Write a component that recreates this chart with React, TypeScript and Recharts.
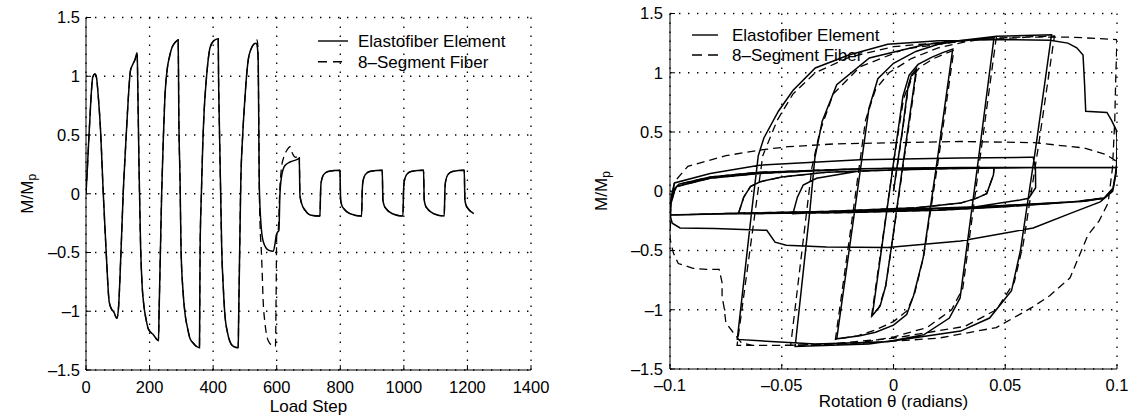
import React from 'react';
import { LineChart, Line, XAxis, YAxis, CartesianGrid } from 'recharts';

const FONT = '"Liberation Sans", Arial, Helvetica, sans-serif';

// ---------- tick values ----------
const leftXTicks = [0, 200, 400, 600, 800, 1000, 1200, 1400];
const yTicks = [-1.5, -1, -0.5, 0, 0.5, 1, 1.5];
const rightXTicks = [-0.1, -0.05, 0, 0.05, 0.1];

const legendLabels = ['Elastofiber Element', '8\u2013Segment Fiber'];
const leftXTitle = 'Load Step';
const rightXTitle = 'Rotation \u03B8 (radians)';

// ---------- left panel: [load step, M/Mp] ----------
const leftSharedCycles: [number, number][] = [
  [0, 0], [4, 0.2], [8, 0.42], [13, 0.68], [17, 0.87], [21, 0.99], [28, 1.02], [33, 0.99], [38, 0.85], [46, 0.53],
  [54, 0.02], [63, -0.47], [73, -0.92], [80, -0.98], [88, -1.01], [97, -1.06], [102, -0.98], [110, -0.5], [117, 0.0], [125, 0.42],
  [133, 0.81], [140, 1.05], [147, 1.1], [154, 1.14], [161, 1.2], [163, 0.9], [167, 0.2], [172, -0.47], [177, -0.8], [182, -0.95],
  [189, -1.07], [196, -1.15], [212, -1.2], [228, -1.25], [230, -1.0], [234, -0.5], [238, 0.0], [243, 0.45], [248, 0.81], [256, 1.07],
  [263, 1.17], [270, 1.24], [278, 1.28], [285, 1.3], [290, 1.31], [292, 0.67], [296, 0.1], [299, -0.47], [305, -0.82], [312, -1.03],
  [320, -1.15], [327, -1.23], [337, -1.27], [348, -1.3], [357, -1.31], [358, -0.9], [359, -0.47], [363, 0.0], [367, 0.39], [372, 0.72],
  [378, 0.955], [384, 1.13], [390, 1.24], [401, 1.3], [416, 1.32], [417, 1.0], [419, 0.67], [423, 0.1], [427, -0.47], [432, -0.8],
  [437, -1.03], [445, -1.18], [453, -1.26], [464, -1.3], [479, -1.31], [480, -1.1], [482, -0.75], [487, 0.1], [493, 0.5], [500, 0.81],
  [505, 1.0], [511, 1.15], [519, 1.23], [527, 1.27], [535, 1.28],
];

const leftSolidMid: [number, number][] = [
  [539, 1.25], [542, 1.1], [545, 0.1], [550, -0.24], [558, -0.41], [574, -0.48], [589, -0.49], [595, -0.42], [598, -0.36], [602, -0.33],
  [607, -0.31], [610, -0.01], [616, 0.16], [626, 0.24], [642, 0.27], [663, 0.29], [671, 0.3], [673, -0.01], [678, -0.08], [689, -0.14],
  [705, -0.18], [736, -0.19],
];

const leftDashedMid: [number, number][] = [
  [538, 1.31], [541, 1.25], [543, 0.8], [545, 0.1], [548, -0.3], [551, -0.45], [554, -0.65], [557, -0.89], [563, -1.1], [568, -1.2],
  [575, -1.26], [585, -1.29], [596, -1.3], [598, -0.9], [600, -0.36], [605, -0.3], [610, 0.05], [615, 0.22], [622, 0.31], [632, 0.37],
  [642, 0.4], [650, 0.34], [660, 0.31], [671, 0.33], [673, -0.01], [678, -0.08], [689, -0.14], [705, -0.18], [736, -0.19],
];

const leftSmallCycles: [number, number][] = [
  [738, 0.02], [740, 0.1], [747, 0.16], [762, 0.19], [799, 0.2],
  [801, -0.05], [805, -0.1], [812, -0.13], [831, -0.17], [867, -0.19],
  [869, 0.02], [871, 0.1], [878, 0.16], [893, 0.19], [932, 0.2],
  [934, -0.05], [938, -0.1], [945, -0.13], [964, -0.17], [997, -0.19],
  [999, 0.02], [1001, 0.1], [1008, 0.16], [1023, 0.19], [1062, 0.2],
  [1064, -0.05], [1068, -0.1], [1075, -0.13], [1094, -0.17], [1127, -0.19],
  [1129, 0.02], [1131, 0.1], [1138, 0.16], [1153, 0.19], [1190, 0.2],
  [1192, -0.05], [1196, -0.1], [1203, -0.13], [1220, -0.17],
];

// ---------- right panel: [rotation, M/Mp] in loading order ----------
const rightSolidBigLoops: [number, number][] = [
  [0, 0], [0.004, 0.52], [0.0065, 0.88], [0.008, 0.98], [0.0102, 1.03],
  [0.0085, 0.8], [0.004, 0.2], [0.0, -0.35], [-0.0035, -0.8], [-0.006, -0.97], [-0.0095, -1.05],
  [-0.005, -0.44], [0.0, 0.24], [0.0042, 0.8], [0.007, 0.98], [0.011, 1.07], [0.017, 1.13], [0.022, 1.17], [0.0265, 1.2],
  [0.02, 0.32], [0.0133, -0.56], [0.009, -0.88], [0.0059, -1.04], [0.0, -1.13], [-0.008, -1.19], [-0.015, -1.22], [-0.0254, -1.245],
  [-0.018, -0.25], [-0.011, 0.7], [-0.007, 0.95], [0.0, 1.08], [0.01, 1.18], [0.02, 1.24], [0.03, 1.27], [0.045, 1.3],
  [0.0375, 0.2], [0.0298, -0.9], [0.025, -1.07], [0.0137, -1.21], [0.0, -1.26], [-0.011, -1.29], [-0.044, -1.31],
  [-0.0374, -0.16], [-0.0352, 0.28], [-0.0319, 0.59], [-0.0254, 0.9], [-0.0108, 1.125], [0.0137, 1.237], [0.0462, 1.307], [0.0707, 1.32],
  [0.0635, 0.35], [0.0568, -0.5], [0.0528, -0.84], [0.043, -1.07], [0.03, -1.18], [-0.0026, -1.27], [-0.035, -1.29], [-0.0699, -1.25],
  [-0.0634, -0.16], [-0.0605, 0.3], [-0.058, 0.45], [-0.0515, 0.675], [-0.045, 0.85], [-0.035, 1.04], [-0.02, 1.15], [-0.0026, 1.24],
  [0.02, 1.27], [0.05, 1.28], [0.07, 1.275], [0.078, 1.25], [0.082, 1.21], [0.0848, 1.15], [0.0855, 0.9], [0.086, 0.675],
  [0.0955, 0.665], [0.0975, 0.6], [0.0996, 0.52],
];

const rightSolidFracture: [number, number][] = [
  [0.1, 0.45], [0.0998, 0.2], [0.098, 0.0], [0.0925, -0.09], [0.08, -0.18], [0.0625, -0.31], [0.03, -0.42], [-0.0026, -0.475],
  [-0.03, -0.47], [-0.048, -0.455], [-0.053, -0.43], [-0.0567, -0.33], [-0.08, -0.315], [-0.0955, -0.31], [-0.099, -0.27], [-0.1, -0.2],
  [-0.0995, -0.05], [-0.098, 0.07], [-0.082, 0.15], [-0.06, 0.22], [-0.015, 0.265], [0.03, 0.28], [0.061, 0.287], [0.0625, 0.287],
  [0.0635, 0.2], [0.0636, 0.03], [0.0605, -0.06], [0.0566, -0.074], [0.037, -0.13], [-0.024, -0.17], [-0.045, -0.19],
  [-0.043, -0.05], [-0.0404, 0.053], [-0.0344, 0.11], [-0.0153, 0.17], [0.02, 0.19], [0.06, 0.2], [0.1, 0.2],
];

const rightSmallCycles: [number, number][] = [
  [0.0984, 0.03], [0.0943, -0.056], [0.08, -0.09], [0.05, -0.13], [0.02, -0.16], [-0.02, -0.18], [-0.0694, -0.19],
  [-0.067, -0.05], [-0.064, 0.04], [-0.0597, 0.08], [-0.05, 0.12], [-0.03, 0.16], [0.0, 0.18], [0.045, 0.2],
  [0.0447, 0.137], [0.0417, -0.02], [0.037, -0.06], [0.03, -0.1], [0.01, -0.14], [-0.03, -0.17], [-0.07, -0.185], [-0.1, -0.2],
  [-0.0995, -0.1], [-0.098, 0.0], [-0.097, 0.04], [-0.082, 0.11], [-0.06, 0.15], [-0.015, 0.19], [0.03, 0.2], [0.1, 0.2],
  [0.098, 0.0], [0.094, -0.06], [0.085, -0.085], [0.06, -0.11], [0.03, -0.14], [0.0, -0.16], [-0.05, -0.18], [-0.1, -0.2],
  [-0.0995, -0.08], [-0.098, 0.02], [-0.096, 0.06], [-0.082, 0.12], [-0.06, 0.16], [-0.015, 0.19], [0.03, 0.2], [0.1, 0.2],
  [0.098, 0.0], [0.094, -0.06], [0.085, -0.085], [0.06, -0.11], [0.03, -0.14],
];

const rightDashedBigLoops: [number, number][] = [
  [0, 0], [0.004, 0.5], [0.0065, 0.86], [0.0085, 0.98], [0.0104, 1.03],
  [0.0088, 0.8], [0.0042, 0.2], [0.0, -0.36], [-0.0035, -0.8], [-0.0065, -0.98], [-0.0098, -1.05],
  [-0.005, -0.42], [0.0, 0.24], [0.0045, 0.78], [0.008, 0.96], [0.012, 1.05], [0.018, 1.12], [0.023, 1.16], [0.027, 1.19],
  [0.0205, 0.32], [0.0135, -0.55], [0.0095, -0.86], [0.006, -1.01], [0.0, -1.1], [-0.008, -1.17], [-0.016, -1.22], [-0.026, -1.25],
  [-0.019, -0.3], [-0.0125, 0.6], [-0.008, 0.86], [-0.002, 1.0], [0.008, 1.12], [0.02, 1.21], [0.032, 1.26], [0.046, 1.3],
  [0.0385, 0.25], [0.031, -0.82], [0.026, -1.0], [0.015, -1.15], [0.0, -1.23], [-0.015, -1.28], [-0.046, -1.3],
  [-0.0365, 0.2], [-0.033, 0.5], [-0.027, 0.82], [-0.015, 1.05], [0.005, 1.2], [0.04, 1.29], [0.072, 1.31],
  [0.065, 0.4], [0.058, -0.45], [0.054, -0.77], [0.046, -1.0], [0.032, -1.14], [0.0, -1.24], [-0.035, -1.3], [-0.07, -1.3],
  [-0.0585, 0.3], [-0.052, 0.6], [-0.045, 0.82], [-0.035, 1.0], [-0.02, 1.13], [0.0, 1.22], [0.03, 1.27], [0.06, 1.3], [0.08, 1.3], [0.1, 1.28],
];

const rightDashedLateCycles: [number, number][] = [
  [0.0995, 1.0], [0.099, 0.6], [0.098, 0.2], [0.096, -0.1], [0.092, -0.25], [0.087, -0.37], [0.079, -0.73], [0.07, -0.88],
  [0.062, -0.98], [0.046, -1.15], [0.02, -1.24], [-0.02, -1.29], [-0.05, -1.3], [-0.063, -1.3], [-0.068, -1.28], [-0.0718, -1.19],
  [-0.075, -1.11], [-0.0758, -0.98], [-0.0767, -0.89], [-0.0767, -0.77], [-0.078, -0.66], [-0.0835, -0.66], [-0.0897, -0.65],
  [-0.0963, -0.61], [-0.0985, -0.52], [-0.1, -0.4], [-0.0995, -0.1], [-0.098, 0.08], [-0.092, 0.21], [-0.075, 0.3],
  [-0.059, 0.35], [-0.047, 0.376], [-0.026, 0.4], [0.03, 0.42], [0.063, 0.41], [0.0853, 0.365], [0.095, 0.31], [0.1, 0.25],
];

type Row = { x: number; y: number };
const toRows = (pts: [number, number][]): Row[] => pts.map(([x, y]) => ({ x, y }));

const leftSolidRows = toRows([...leftSharedCycles, ...leftSolidMid, ...leftSmallCycles]);
const leftDashedRows = toRows([...leftSharedCycles, ...leftDashedMid, ...leftSmallCycles]);
const rightSolidRows = toRows([...rightSolidBigLoops, ...rightSolidFracture, ...rightSmallCycles]);
const rightDashedRows = toRows([...rightDashedBigLoops, ...rightDashedLateCycles, ...rightSmallCycles]);

const fmt = (v: number) => (v < 0 ? '\u2013' + String(Math.abs(v)) : String(v));
const blank = () => '';

const tickStyle = { fill: '#000', fontSize: 16.5, fontFamily: FONT };
const lineStyle = { stroke: '#000', strokeWidth: 1 };
const GRID_DASH = '1.4 7.6';

const YTitle = ({ cx, cy }: { cx: number; cy: number; viewBox?: unknown }) => (
  <text
    x={cx}
    y={cy}
    transform={`rotate(-90 ${cx} ${cy})`}
    textAnchor="middle"
    dominantBaseline="central"
    fontFamily={FONT}
    fontSize={17}
    fill="#000"
  >
    M/M<tspan fontSize={12} dy={5}>p</tspan>
  </text>
);

const XTitle = ({ posX, posY, text }: { posX: number; posY: number; text: string; viewBox?: unknown }) => (
  <text x={posX} y={posY} textAnchor="middle" fontFamily={FONT} fontSize={17} fill="#000">
    {text}
  </text>
);

const LegendBox = ({ left, top, lineX1, lineX2, textX, row1, row2, dash }: {
  left: number; top: number; lineX1: number; lineX2: number; textX: number; row1: number; row2: number; dash: string;
}) => (
  <svg
    width={240}
    height={50}
    style={{ position: 'absolute', left, top, overflow: 'visible', pointerEvents: 'none' }}
  >
    <line x1={lineX1} x2={lineX2} y1={row1} y2={row1} stroke="#000" strokeWidth={1.4} />
    <text x={textX} y={row1 + 6} fontFamily={FONT} fontSize={17} fill="#000">{legendLabels[0]}</text>
    <line x1={lineX1} x2={lineX2} y1={row2} y2={row2} stroke="#000" strokeWidth={1.4} strokeDasharray={dash} />
    <text x={textX} y={row2 + 6} fontFamily={FONT} fontSize={17} fill="#000">{legendLabels[1]}</text>
  </svg>
);

export default function App() {
  return (
    <div style={{ position: 'absolute', left: 0, top: 0, width: 1133, height: 417, background: '#fff', overflow: 'hidden' }}>
      {/* Left panel */}
      <div style={{ position: 'absolute', left: 0, top: 0, width: 560, height: 417 }}>
        <LineChart width={560} height={417} margin={{ top: 17.5, right: 29, bottom: 17, left: 26 }}>
          <CartesianGrid stroke="#000" strokeDasharray={GRID_DASH} strokeWidth={1.3} />
          <XAxis
            dataKey="x" type="number" domain={[0, 1400]} ticks={leftXTicks} interval={0} allowDataOverflow
            height={30} axisLine={lineStyle} tickLine={lineStyle} tickSize={-5} tickMargin={16}
            tick={tickStyle} tickFormatter={fmt}
            label={<XTitle posX={308.5} posY={411.5} text={leftXTitle} />}
          />
          <XAxis
            xAxisId="top" orientation="top" type="number" domain={[0, 1400]} ticks={leftXTicks} interval={0} allowDataOverflow
            height={0} axisLine={lineStyle} tickLine={lineStyle} tickSize={-5} tick={tickStyle} tickFormatter={blank}
          />
          <YAxis
            type="number" domain={[-1.5, 1.5]} ticks={yTicks} interval={0} allowDataOverflow
            width={60} axisLine={lineStyle} tickLine={lineStyle} tickSize={-5} tickMargin={11}
            tick={tickStyle} tickFormatter={fmt}
            label={<YTitle cx={27} cy={193.75} />}
          />
          <YAxis
            yAxisId="right" orientation="right" type="number" domain={[-1.5, 1.5]} ticks={yTicks} interval={0} allowDataOverflow
            width={0} axisLine={lineStyle} tickLine={lineStyle} tickSize={-5} tick={tickStyle} tickFormatter={blank}
          />
          <Line data={leftDashedRows} dataKey="y" type="monotone" stroke="#000" strokeWidth={1.3} strokeDasharray="8 5" dot={false} isAnimationActive={false} />
          <Line data={leftSolidRows} dataKey="y" type="monotone" stroke="#000" strokeWidth={1.5} dot={false} isAnimationActive={false} />
        </LineChart>
        <LegendBox left={310} top={28} lineX1={8} lineX2={38} textX={48} row1={13} row2={33.7} dash="9 6" />
      </div>

      {/* Right panel */}
      <div style={{ position: 'absolute', left: 560, top: 0, width: 573, height: 417 }}>
        <LineChart width={573} height={417} margin={{ top: 13.5, right: 16, bottom: 18, left: 50 }}>
          <CartesianGrid stroke="#000" strokeDasharray={GRID_DASH} strokeWidth={1.3} />
          <XAxis
            dataKey="x" type="number" domain={[-0.1, 0.1]} ticks={rightXTicks} interval={0} allowDataOverflow
            height={30} axisLine={lineStyle} tickLine={lineStyle} tickSize={-5} tickMargin={15}
            tick={tickStyle} tickFormatter={fmt}
            label={<XTitle posX={333.5} posY={407} text={rightXTitle} />}
          />
          <XAxis
            xAxisId="top" orientation="top" type="number" domain={[-0.1, 0.1]} ticks={rightXTicks} interval={0} allowDataOverflow
            height={0} axisLine={lineStyle} tickLine={lineStyle} tickSize={-5} tick={tickStyle} tickFormatter={blank}
          />
          <YAxis
            type="number" domain={[-1.5, 1.5]} ticks={yTicks} interval={0} allowDataOverflow
            width={60} axisLine={lineStyle} tickLine={lineStyle} tickSize={-5} tickMargin={12}
            tick={tickStyle} tickFormatter={fmt}
            label={<YTitle cx={41} cy={191} />}
          />
          <YAxis
            yAxisId="right" orientation="right" type="number" domain={[-1.5, 1.5]} ticks={yTicks} interval={0} allowDataOverflow
            width={0} axisLine={lineStyle} tickLine={lineStyle} tickSize={-5} tick={tickStyle} tickFormatter={blank}
          />
          <Line data={rightDashedRows} dataKey="y" type="linear" stroke="#000" strokeWidth={1.3} strokeDasharray="8 5" dot={false} isAnimationActive={false} />
          <Line data={rightSolidRows} dataKey="y" type="linear" stroke="#000" strokeWidth={1.5} dot={false} isAnimationActive={false} />
        </LineChart>
        <LegendBox left={125} top={22} lineX1={7} lineX2={33} textX={47} row1={13} row2={33} dash="10 6" />
      </div>
    </div>
  );
}
